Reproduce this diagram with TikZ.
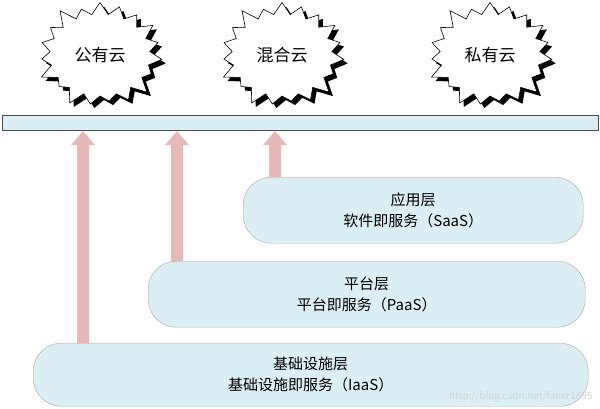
\documentclass[tikz,border=0pt]{standalone}
\usepackage{fontspec}
\setmainfont{Noto Sans CJK SC}
\usetikzlibrary{shapes.symbols}
\definecolor{boxfill}{HTML}{DBEEF4}
\definecolor{arrowc}{HTML}{E6B9B8}
\begin{document}
\begin{tikzpicture}[x=1pt,y=-1pt,
  cloud/.style={starburst,starburst points=19,starburst point height=16pt,minimum width=132pt,minimum height=114pt,font=\fontsize{17}{20}\selectfont,inner sep=0pt},
  layer/.style={draw=gray!70,fill=boxfill,rounded corners=28pt,align=center,font=\fontsize{15}{21}\selectfont,anchor=north west,inner sep=0pt},
  uparrow/.style={fill=arrowc,draw=none}]
\useasboundingbox (0,0) rectangle (600,408);
\foreach \n/\x/\t in {a/100/公有云,b/282/混合云,c/490/私有云}{
  \node[cloud,fill=black] at (\x+4,59) {};
  \node[cloud,draw=black,fill=white,line width=0.6pt] (\n) at (\x,55) {\t};
}
\node[draw=black!70,fill=boxfill,minimum width=596pt,minimum height=15pt,inner sep=0pt,anchor=north west] (bar) at (2,115) {};
\node[layer,minimum width=340pt,minimum height=66pt] (saas) at (243,177) {应用层\\软件即服务（SaaS）};
\node[layer,minimum width=437pt,minimum height=66pt] (paas) at (148,261) {平台层\\平台即服务（PaaS）};
\node[layer,minimum width=555pt,minimum height=63pt] (iaas) at (33,343) {基础设施层\\基础设施即服务（IaaS）};
\foreach \x/\b in {83/343,177/261,275/177}{
  \fill[uparrow] (\x-6,\b) -- (\x-6,145) -- (\x-12,145) -- (\x,131) -- (\x+12,145) -- (\x+6,145) -- (\x+6,\b) -- cycle;
}
\node[text=gray!35,font=\fontsize{10}{12}\selectfont,anchor=south east] (wm) at (596,406) {http://blog.csdn.net/faker1895};
\end{tikzpicture}
\end{document}
